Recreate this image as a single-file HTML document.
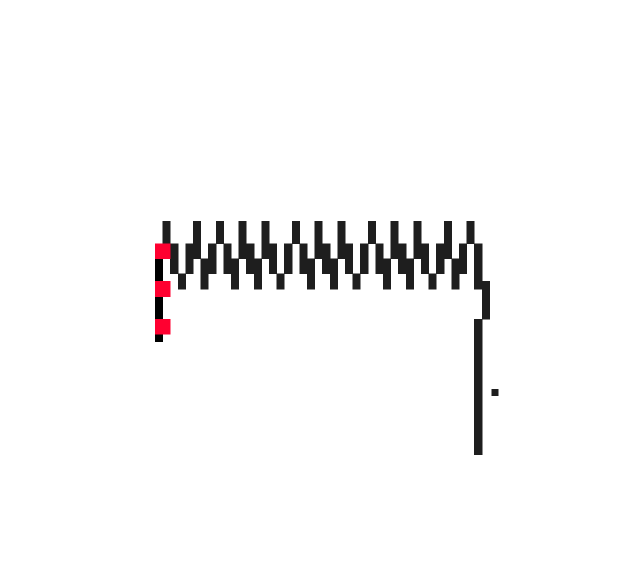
<!DOCTYPE html>
<html><head><meta charset="utf-8"><style>html,body{margin:0;padding:0;background:#fff;width:630px;height:571px;overflow:hidden}</style></head>
<body>
<svg id="art" width="630" height="571" xmlns="http://www.w3.org/2000/svg" shape-rendering="crispEdges"></svg>
<script>
// spike columns (top), rows 0-2
const spikeCols = [1,5,8,11,14,18,21,24,28,31,34,38,41];
// zigzag rows: [row, height, columns...]
const zigRow34 = [2,4,5,7,9,11,12,14,15,17,19,21,22,24,25,27,29,31,32,34,35,37,38,40,42];
const zigRow56 = [0,2,4,6,7,9,10,12,13,15,17,19,20,22,23,25,27,29,30,32,33,35,37,39,40,42];
const zigRow78 = [0,3,6,10,13,16,20,23,26,30,33,36,39,42];
const redRows = [3,8,13];
const leftBlack = [[5,3],[10,3],[15,1]];
const rightSegs = [[42,3,5],[43,8,5],[42,13,18]];
const svg = document.getElementById('art');
const X0=155, Y0=221, CW=7.6, CH=7.53;
function rect(c,r,w,h,fill,name){
  const e=document.createElementNS('http://www.w3.org/2000/svg','rect');
  e.setAttribute('x',(X0+c*CW).toFixed(1));
  e.setAttribute('y',(Y0+r*CH).toFixed(1));
  e.setAttribute('width',(w*CW+0.5).toFixed(1));
  e.setAttribute('height',(h*CH+0.5).toFixed(1));
  e.setAttribute('fill',fill);
  
  
  svg.appendChild(e);
}
spikeCols.forEach(c=>rect(c,0,1,3,'#1e1e1e','spike'));
zigRow34.forEach(c=>rect(c,3,1,2,'#1e1e1e','zigzag-cell'));
zigRow56.forEach(c=>rect(c,5,1,2,'#1e1e1e','zigzag-cell'));
zigRow78.forEach(c=>rect(c,7,1,2,'#1e1e1e','zigzag-cell'));
leftBlack.forEach(s=>rect(0,s[0],1,s[1],'#000','left-axis'));
redRows.forEach(r=>rect(0,r,2,2,'#ff0030','red-marker'));
rightSegs.forEach(s=>rect(s[0],s[1],1,s[2],'#1e1e1e','right-axis'));
rect(44.3,22.3,0.85,0.85,'#1e1e1e','dot');
</script>
</body></html>
